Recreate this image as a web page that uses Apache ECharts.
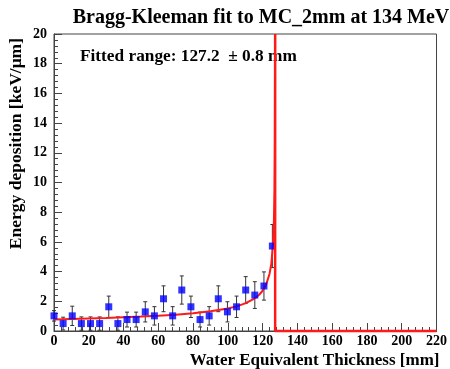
<!DOCTYPE html>
<html><head><meta charset="utf-8">
<script src="https://cdn.jsdelivr.net/npm/echarts@6/dist/echarts.min.js"></script>
<style>html,body{margin:0;padding:0;background:#fff}#c{width:450px;height:369px}</style>
</head><body><div id="c"></div>
<script>
// Data points (bin positions in mm), values [keV/µm], errors
var xPos = [0, 5.25, 10.5, 15.75, 21, 26.25, 31.5, 36.75, 42, 47.25, 52.5, 57.75, 63, 68.25, 73.5, 78.75, 84, 89.25, 94.5, 99.75, 105, 110.25, 115.5, 120.75, 125.6];
var yVal = [1.02, 0.5, 1.02, 0.5, 0.5, 0.5, 1.63, 0.5, 0.77, 0.77, 1.29, 1.02, 2.17, 1.02, 2.76, 1.63, 0.77, 1.02, 2.17, 1.29, 1.63, 2.76, 2.42, 3.03, 5.72];
var yErr = [0.35, 0.43, 0.65, 0.45, 0.45, 0.45, 0.72, 0.45, 0.5, 0.5, 0.68, 0.62, 0.87, 0.62, 0.95, 0.72, 0.5, 0.62, 0.87, 0.68, 0.72, 0.9, 0.9, 0.95, 1.45];
// Fit curve
var fitX = [0, 10, 20, 30, 40, 50, 60, 70, 80, 90, 100, 105, 110, 115, 118, 120, 122, 124, 125, 126, 126.5, 126.8, 127, 127.1, 127.15];
var fitY = [0.78, 0.81, 0.84, 0.87, 0.92, 0.97, 1.03, 1.10, 1.20, 1.33, 1.52, 1.66, 1.86, 2.16, 2.44, 2.71, 3.12, 3.86, 4.54, 5.9, 7.47, 9.5, 12.9, 17.4, 20];
// Range line (fitted range) and zero baseline beyond it
var rangeX = [127.2, 127.2, 220];
var rangeY = [20, 0, 0];
var xTicks = [0, 20, 40, 60, 80, 100, 120, 140, 160, 180, 200, 220];
var yTicks = [0, 2, 4, 6, 8, 10, 12, 14, 16, 18, 20];

var F = '"Liberation Serif", "DejaVu Serif", serif';
var chart = echarts.init(document.getElementById('c'));
var pts = xPos.map(function(x, i){ return [x, yVal[i]]; });
var errs = xPos.map(function(x, i){ return [x, yVal[i] - yErr[i], yVal[i] + yErr[i]]; });
var fit = fitX.map(function(x, i){ return [x, fitY[i]]; });
var rng = rangeX.map(function(x, i){ return [x, rangeY[i]]; });
var axisCol = '#444';
chart.setOption({
  animation: false,
  title: {
    text: 'Bragg-Kleeman fit to MC_2mm at 134 MeV',
    left: 256, top: 3, textAlign: 'center',
    textStyle: {fontFamily: F, fontWeight: 'bold', fontSize: 20, color: '#000'}
  },
  graphic: [{
    type: 'text', left: 80, top: 48,
    style: {text: 'Fitted range: 127.2  \u00b1 0.8 mm', font: 'bold 17.3px ' + F, fill: '#000'}
  }],
  grid: {left: 54, right: 9, top: 34, bottom: 38, show: true, borderColor: axisCol, borderWidth: 1},
  xAxis: {
    type: 'value', min: 0, max: 220, interval: 20,
    name: 'Water Equivalent Thickness [mm]', nameLocation: 'end',
    nameGap: 0,
    nameTextStyle: {fontFamily: F, fontWeight: 'bold', fontSize: 17, color: '#000', align: 'right', verticalAlign: 'top', padding: [21, -3, 0, 0]},
    axisLine: {show: true, lineStyle: {color: axisCol}},
    axisTick: {show: true, inside: true, length: 8, lineStyle: {color: axisCol}},
    minorTick: {show: true, splitNumber: 5, length: 4, lineStyle: {color: axisCol}},
    splitLine: {show: false},
    axisLabel: {fontFamily: F, fontWeight: 'bold', fontSize: 14, color: '#000', margin: 3, showMaxLabel: true}
  },
  yAxis: {
    type: 'value', min: 0, max: 20, interval: 2,
    name: 'Energy deposition [keV/\u03bcm]', nameLocation: 'end', nameRotate: 90,
    nameGap: 0,
    nameTextStyle: {fontFamily: F, fontWeight: 'bold', fontSize: 17.5, color: '#000', align: 'right', verticalAlign: 'bottom', padding: [0, 4, 29, 0]},
    axisLine: {show: true, lineStyle: {color: axisCol}},
    axisTick: {show: true, inside: true, length: 8, lineStyle: {color: axisCol}},
    minorTick: {show: true, splitNumber: 5, length: 4, lineStyle: {color: axisCol}},
    splitLine: {show: false},
    axisLabel: {fontFamily: F, fontWeight: 'bold', fontSize: 14, color: '#000', margin: 7}
  },
  series: [
    {
      type: 'custom', data: errs, z: 2,
      renderItem: function(params, api){
        var x = api.value(0), lo = api.value(1), hi = api.value(2);
        var pLo = api.coord([x, lo]), pHi = api.coord([x, hi]);
        var st = {stroke: '#333', lineWidth: 1};
        return {type: 'group', children: [
          {type: 'line', shape: {x1: pLo[0], y1: pLo[1], x2: pHi[0], y2: pHi[1]}, style: st},
          {type: 'line', shape: {x1: pLo[0]-2, y1: pLo[1], x2: pLo[0]+2, y2: pLo[1]}, style: st},
          {type: 'line', shape: {x1: pHi[0]-2, y1: pHi[1], x2: pHi[0]+2, y2: pHi[1]}, style: st}
        ]};
      }
    },
    {
      type: 'line', data: fit, showSymbol: false, smooth: false, clip: true, z: 3,
      lineStyle: {color: '#ff1a1a', width: 2}
    },
    {
      type: 'scatter', data: pts, symbol: 'rect', symbolSize: 7, z: 4,
      itemStyle: {color: '#0000ff'}
    },
    {
      type: 'line', data: rng, showSymbol: false, clip: false, z: 5,
      lineStyle: {color: '#ff1a1a', width: 2.5}
    }
  ]
});
</script></body></html>
